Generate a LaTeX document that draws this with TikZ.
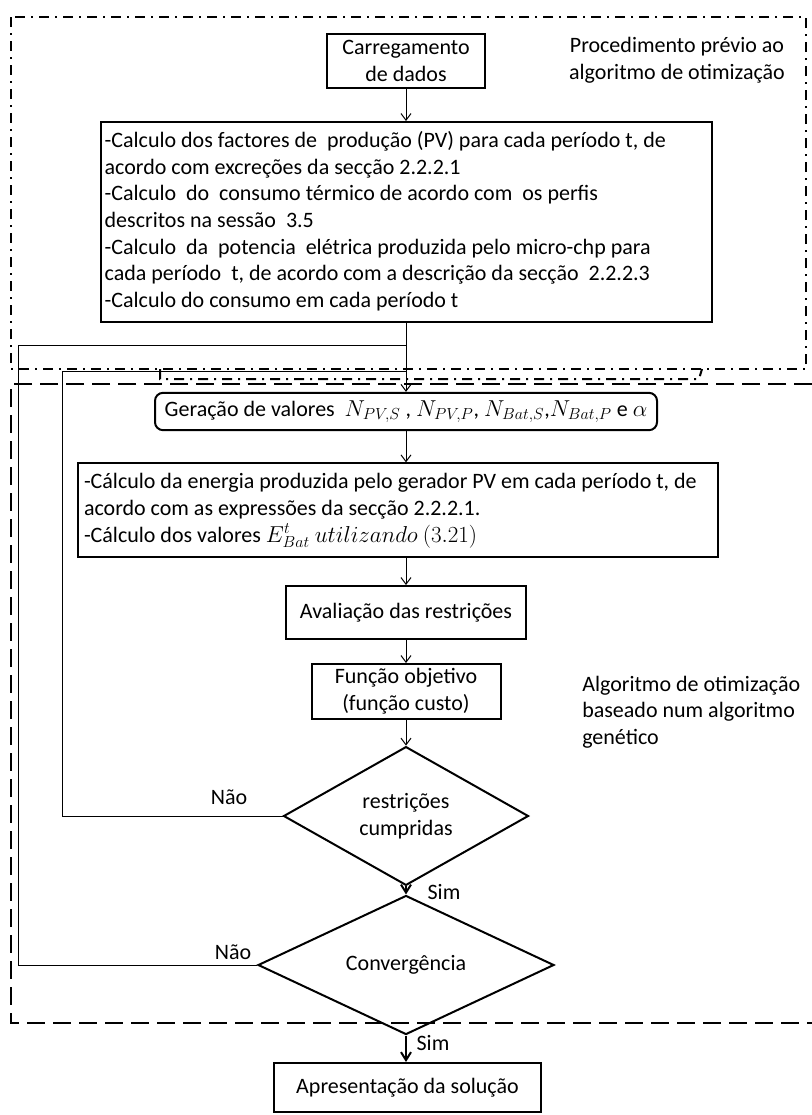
\documentclass[tikz,border=0pt]{standalone}
\usepackage{fontspec}
\setmainfont{Carlito}
\usetikzlibrary{shapes.geometric,arrows.meta}

\newcommand\leftlines[2]{\makebox[#1][l]{\begin{tabular}{@{}l@{}}#2\end{tabular}}}

\begin{document}
\begin{tikzpicture}[x=0.75pt,y=-0.75pt,
  every node/.style={font=\fontsize{16.5}{20}\selectfont},
  box/.style={draw,line width=1.5pt,inner sep=0pt,align=center},
  dec/.style={draw,diamond,line width=1.5pt,inner sep=0pt,align=center},
  flow/.style={line width=0.75pt,-{Straight Barb[length=5pt,width=7.5pt]}},
  yes/.style={line width=1.5pt,-{Straight Barb[length=6pt,width=7.5pt]}},
  back/.style={line width=0.75pt},
  lbl/.style={inner sep=0pt},
  regionA/.style={line width=1.5pt,dash pattern=on 7.5pt off 4.5pt on 1.5pt off 4.5pt},
  regionB/.style={line width=1.5pt,dash pattern=on 13.5pt off 6pt},
]
\useasboundingbox (0,0) rectangle (812,1115);

% region borders
\draw[regionA] (11,17) rectangle (806,369);
\draw[regionA] (160,369) -- (160,379) -- (699,379) -- (702,369);
\draw[regionB] (812,384) -- (11,384) -- (11,1023) -- (812,1023);

% preliminary procedure
\node[box, minimum width=118.5pt, minimum height=40.5pt] (load) at (406,61)
  {Carregamento\\de dados};
\node[box, minimum width=458.25pt, minimum height=150pt] (calc1) at (406,222)
  {\leftlines{452pt}{%
  -Calculo dos factores de\ \ produção (PV) para cada período t, de\\
  acordo com excreções da secção 2.2.2.1\\
  -Calculo\ \ do\ \ consumo térmico de acordo com\ \ os perfis\\
  descritos na sessão\ \ 3.5\\
  -Calculo\ \ da\ \ potencia\ \ elétrica produzida pelo micro-chp para\\
  cada período\ \ t, de acordo com a descrição da secção\ \ 2.2.2.3\\
  -Calculo do consumo em cada período t}};

% genetic algorithm
\node[box, rounded corners=6pt, minimum width=376.5pt, minimum height=28pt] (gen) at (406,411.5)
  {Geração de valores\ \ $N_{PV,S}$ , $N_{PV,P}$, $N_{Bat,S}$,$N_{Bat,P}$ e $\alpha$};
\node[box, minimum width=480pt, minimum height=70pt] (calc2) at (398,510)
  {\leftlines{471pt}{%
  -Cálculo da energia produzida pelo gerador PV em cada período t, de\\
  acordo com as expressões da secção 2.2.2.1.\\
  -Cálculo dos valores $E^{t}_{Bat}\ utilizando\ (3.21)$}};
\node[box, minimum width=180pt, minimum height=39.75pt] (aval) at (406,612.5)
  {Avaliação das restrições};
\node[box, minimum width=141.75pt, minimum height=41.25pt] (func) at (406,691.5)
  {Função objetivo\\(função custo)};
\node[dec, minimum width=183.75pt, minimum height=94.5pt] (rest) at (406,816)
  {restrições\\cumpridas};
\node[dec, minimum width=222pt, minimum height=84.75pt] (conv) at (406,965)
  {Convergência};
\node[box, minimum width=200.25pt, minimum height=36.75pt] (sol) at (407.5,1087.5)
  {Apresentação da solução};

% region captions
\node[align=center, lbl] (capA) at (677,60) {Procedimento prévio ao\\algoritmo de otimização};
\node[align=left, lbl, anchor=west] (capB) at (582,712) {Algoritmo de otimização\\baseado num algoritmo\\genético};

% branch labels
\node[lbl] (no1) at (229,797) {Não};
\node[lbl] (yes1) at (444,892) {Sim};
\node[lbl] (no2) at (233,952) {Não};
\node[lbl] (yes2) at (433,1043) {Sim};

% main flow
\draw[flow] (load.south) -- (load.south |- calc1.north);
\draw[flow] (calc1) -- (gen);
\draw[flow] (gen.south) -- (gen.south |- calc2.north);
\draw[flow] (aval.north |- calc2.south) -- (aval);
\draw[flow] (aval) -- (func);
\draw[flow] (func) -- (rest);
\draw[yes] (rest) -- (conv);
\draw[yes] (conv.south) -- (conv.south |- sol.north);

% feedback loops
\coordinate (j1) at (406,345);
\coordinate (j2) at (406,371);
\coordinate (c1) at (18,345);
\coordinate (c2) at (62,371);
\draw[back] (conv.west) -| (c1) -- (j1);
\draw[back] (rest.west) -| (c2) -- (j2);
\end{tikzpicture}
\end{document}
